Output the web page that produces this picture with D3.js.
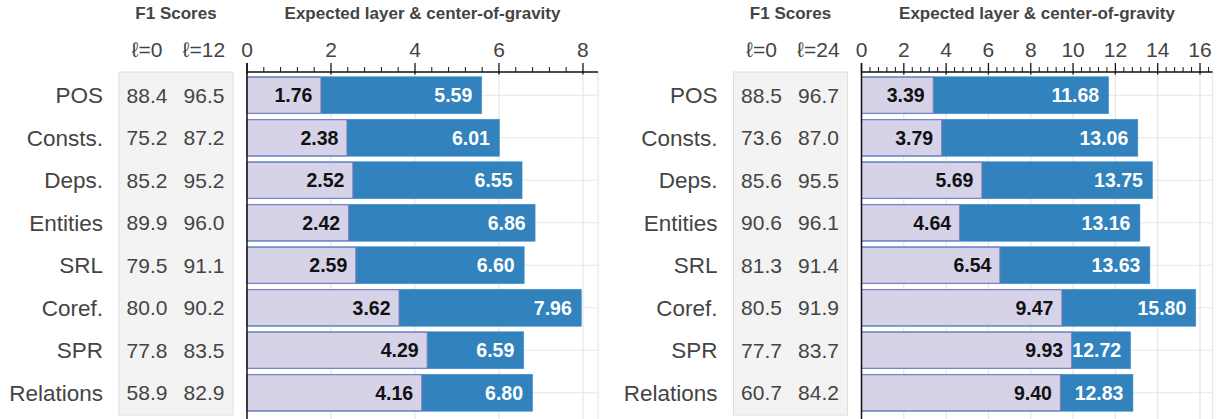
<!DOCTYPE html>
<html><head><meta charset="utf-8">
<script src="https://cdn.jsdelivr.net/npm/d3@7"></script>
<style>
body{margin:0;background:#fff;}
text{font-family:"Liberation Sans",Arial,sans-serif;}
</style></head>
<body><svg id="c" width="1226" height="419"></svg>
<script>
const categories = ["POS","Consts.","Deps.","Entities","SRL","Coref.","SPR","Relations"];
// Left panel (12 layers)
const f1BaseL = [88.4,75.2,85.2,89.9,79.5,80.0,77.8,58.9];
const f1TopL  = [96.5,87.2,95.2,96.0,91.1,90.2,83.5,82.9];
const expLayerL = [1.76,2.38,2.52,2.42,2.59,3.62,4.29,4.16];
const cogL      = [5.59,6.01,6.55,6.86,6.60,7.96,6.59,6.80];
const headersL = ["ℓ=0","ℓ=12"];
// Right panel (24 layers)
const f1BaseR = [88.5,73.6,85.6,90.6,81.3,80.5,77.7,60.7];
const f1TopR  = [96.7,87.0,95.5,96.1,91.4,91.9,83.7,84.2];
const expLayerR = [3.39,3.79,5.69,4.64,6.54,9.47,9.93,9.40];
const cogR      = [11.68,13.06,13.75,13.16,13.63,15.80,12.72,12.83];
const headersR = ["ℓ=0","ℓ=24"];
const titleF1 = "F1 Scores";
const titleBars = "Expected layer & center-of-gravity";

const svg = d3.select("#c");
const y = d3.scaleBand().domain(categories).range([74,414]).paddingInner(0.13).paddingOuter(0.065);

function panel(ox, f1a, f1b, hdr, expl, cog){
  const g = svg.append("g").attr("transform",`translate(${ox},0)`);
  const px0 = 247, pw = 351;
  const x = d3.scaleLinear().domain([0, d3.max(cog)*1.05]).range([px0, px0+pw]);
  const axisY = 72;
  // F1 box
  const bx = 119, bw = 114;
  g.append("rect").attr("x",bx).attr("y",72).attr("width",bw).attr("height",343)
    .attr("fill","#f3f3f3").attr("stroke","#dedede");
  g.append("text").attr("x",bx+bw/2).attr("y",19).attr("text-anchor","middle")
    .attr("font-size",17).attr("font-weight","bold").attr("fill","#444").text(titleF1);
  const cols = [bx+28, bx+85];
  hdr.forEach((h,i)=>g.append("text").attr("x",cols[i]).attr("y",57).attr("text-anchor","middle")
    .attr("font-size",21).attr("fill","#444").text(h));
  [f1a,f1b].forEach((arr,i)=>{
    g.selectAll(null).data(categories).enter().append("text")
      .attr("x",cols[i]).attr("y",c=>y(c)+y.bandwidth()/2).attr("dy","0.36em")
      .attr("text-anchor","middle").attr("font-size",21).attr("fill","#444")
      .text((c,j)=>arr[j].toFixed(1));
  });
  // row labels
  g.selectAll(null).data(categories).enter().append("text")
    .attr("x",bx-16).attr("y",c=>y(c)+y.bandwidth()/2).attr("dy","0.36em")
    .attr("text-anchor","end").attr("font-size",22.5).attr("fill","#444").text(c=>c);
  // title
  g.append("text").attr("x",px0+pw/2).attr("y",19).attr("text-anchor","middle")
    .attr("font-size",17).attr("font-weight","bold").attr("fill","#444").text(titleBars);
  // grid
  const majors = d3.range(0, x.domain()[1]+1e-9, 2);
  const minors = d3.range(0, x.domain()[1]+1e-9, 0.4).filter(v=>Math.abs(v/2-Math.round(v/2))>1e-6);
  g.selectAll(null).data(majors.slice(1).concat([x.domain()[1]])).enter().append("line")
    .attr("x1",d=>x(d)).attr("x2",d=>x(d)).attr("y1",axisY).attr("y2",419)
    .attr("stroke","#e6e6e6").attr("stroke-width",1.2);
  g.selectAll(null).data(categories).enter().append("line")
    .attr("x1",px0).attr("x2",px0+pw).attr("y1",c=>y(c)+y.bandwidth()/2).attr("y2",c=>y(c)+y.bandwidth()/2)
    .attr("stroke","#e6e6e6").attr("stroke-width",1.2);
  // bars
  g.selectAll(null).data(categories).enter().append("rect")
    .attr("x",px0).attr("y",c=>y(c)).attr("height",y.bandwidth())
    .attr("width",(c,i)=>x(cog[i])-px0).attr("fill","#3182bd").attr("stroke","#4a90c8").attr("stroke-width",0.6);
  g.selectAll(null).data(categories).enter().append("rect")
    .attr("x",px0).attr("y",c=>y(c)+0.5).attr("height",y.bandwidth()-1)
    .attr("width",(c,i)=>x(expl[i])-px0).attr("fill","#d6d3e9").attr("stroke","#7f7bbd").attr("stroke-width",1);
  g.selectAll(null).data(categories).enter().append("text")
    .attr("x",(c,i)=>x(cog[i])-9.5).attr("y",c=>y(c)+y.bandwidth()/2).attr("dy","0.36em")
    .attr("text-anchor","end").attr("font-size",19.5).attr("font-weight","bold").attr("fill","#fff")
    .text((c,i)=>cog[i].toFixed(2));
  g.selectAll(null).data(categories).enter().append("text")
    .attr("x",(c,i)=>x(expl[i])-8.5).attr("y",c=>y(c)+y.bandwidth()/2).attr("dy","0.36em")
    .attr("text-anchor","end").attr("font-size",19.5).attr("font-weight","bold").attr("fill","#111")
    .text((c,i)=>expl[i].toFixed(2));
  // axis
  const ax = g.append("g");
  ax.append("line").attr("x1",px0).attr("x2",px0+pw).attr("y1",axisY).attr("y2",axisY).attr("stroke","#111").attr("stroke-width",1.3);
  ax.append("line").attr("x1",px0).attr("x2",px0).attr("y1",63).attr("y2",419).attr("stroke","#111").attr("stroke-width",1.5);
  ax.selectAll(null).data(majors).enter().append("line")
    .attr("x1",d=>x(d)).attr("x2",d=>x(d)).attr("y1",axisY-9).attr("y2",axisY+2.5).attr("stroke","#111").attr("stroke-width",1.3);
  ax.selectAll(null).data(minors).enter().append("line")
    .attr("x1",d=>x(d)).attr("x2",d=>x(d)).attr("y1",axisY-5).attr("y2",axisY).attr("stroke","#111").attr("stroke-width",1);
  ax.selectAll(null).data(majors).enter().append("text")
    .attr("x",d=>x(d)).attr("y",57).attr("text-anchor","middle").attr("font-size",21).attr("fill","#444")
    .text(d=>d3.format("d")(d));
}
panel(0, f1BaseL, f1TopL, headersL, expLayerL, cogL);
panel(614.5, f1BaseR, f1TopR, headersR, expLayerR, cogR);
</script></body></html>
